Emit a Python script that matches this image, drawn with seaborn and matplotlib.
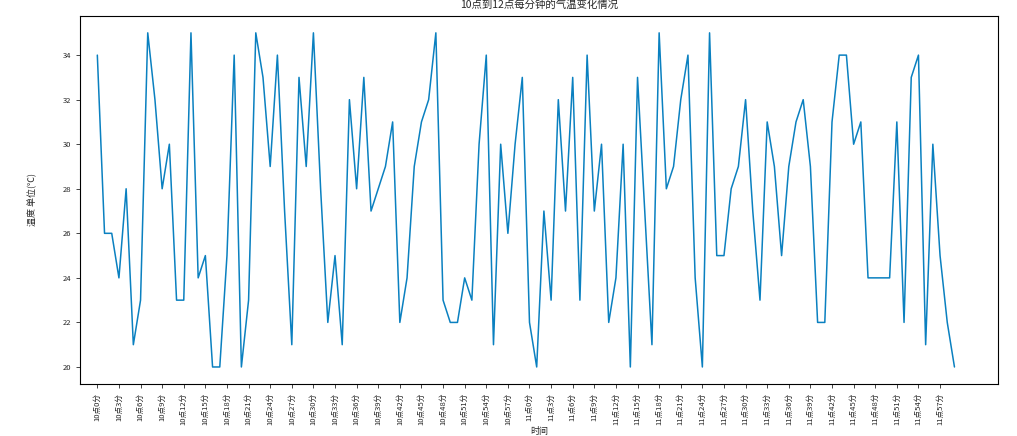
import seaborn as sns
import matplotlib.pyplot as plt
import pandas as pd

# --- dados: temperatura a cada minuto entre 10h e 12h ---
HORAS = [10, 11]
MINUTOS_POR_HORA = 60
TEMPERATURAS = [
    34, 26, 26, 24, 28, 21, 23, 35, 32, 28, 30, 23, 23, 35, 24, 25, 20, 20, 25, 34,
    20, 23, 35, 33, 29, 34, 27, 21, 33, 29, 35, 28, 22, 25, 21, 32, 28, 33, 27, 28,
    29, 31, 22, 24, 29, 31, 32, 35, 23, 22, 22, 24, 23, 30, 34, 21, 30, 26, 30, 33,
    22, 20, 27, 23, 32, 27, 33, 23, 34, 27, 30, 22, 24, 30, 20, 33, 27, 21, 35, 28,
    29, 32, 34, 24, 20, 35, 25, 25, 28, 29, 32, 27, 23, 31, 29, 25, 29, 31, 32, 29,
    22, 22, 31, 34, 34, 30, 31, 24, 24, 24, 24, 31, 22, 33, 34, 21, 30, 25, 22, 20,
]
PASSO_TICKS = 3
COR_LINHA = '#0a80c0'

ROTULOS = [f"{h}点{m}分" for h in HORAS for m in range(MINUTOS_POR_HORA)]


def main():
    df = pd.DataFrame({'minuto': range(len(TEMPERATURAS)), 'temp': TEMPERATURAS})

    sns.set_style("ticks")
    plt.rcParams['font.family'] = ['Noto Sans CJK SC', 'DejaVu Sans']
    plt.rcParams['axes.unicode_minus'] = False

    fig = plt.figure(figsize=(10.17, 4.36), dpi=100)
    ax = fig.add_axes([0.0787, 0.12, 0.9023, 0.843])

    sns.lineplot(data=df, x='minuto', y='temp', color=COR_LINHA, linewidth=1.1, ax=ax)

    ax.set_xticks(df['minuto'][::PASSO_TICKS])
    ax.set_xticklabels(ROTULOS[::PASSO_TICKS], rotation=90, fontsize=5.5)
    ax.tick_params(axis='y', labelsize=5.5)
    ax.tick_params(length=3, width=0.6)
    ax.set_xlim(-2.4, 125)
    ax.set_yticks(range(20, 35, 2))

    ax.set_xlabel("时间", fontsize=6.5, labelpad=1)
    ax.set_ylabel("温度 单位(℃)", fontsize=6.5, labelpad=18)
    ax.set_title("10点到12点每分钟的气温变化情况", fontsize=7.5)

    for s in ax.spines.values():
        s.set_linewidth(0.8)
        s.set_color('black')

    fig.savefig("out.png", dpi=100)


if __name__ == "__main__":
    main()
